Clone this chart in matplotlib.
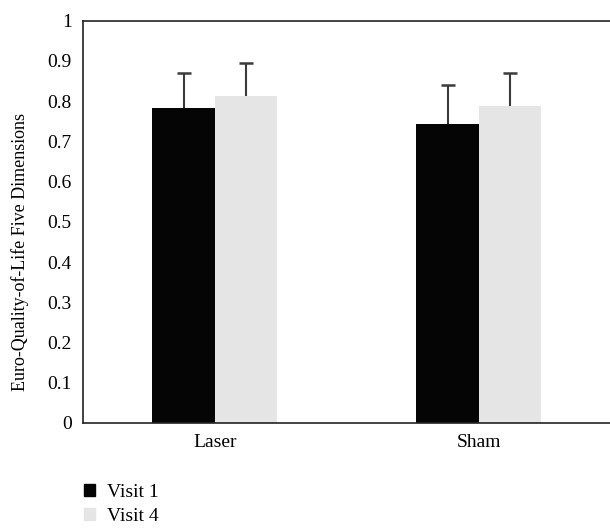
import numpy as np
import matplotlib
matplotlib.use("Agg")
import matplotlib.pyplot as plt
from matplotlib.patches import Patch

plt.rcParams['font.family'] = ['Liberation Serif', 'DejaVu Serif']

# Data
groups = ["Laser", "Sham"]
visit1 = [0.782, 0.743]
visit4 = [0.812, 0.787]
visit1_err = [0.087, 0.097]
visit4_err = [0.082, 0.082]
yticks = [0, 0.1, 0.2, 0.3, 0.4, 0.5, 0.6, 0.7, 0.8, 0.9, 1]
ylabel = "Euro-Quality-of-Life Five Dimensions"

fig = plt.figure(figsize=(6.1, 5.29), dpi=100)
ax = fig.add_axes([0.136, 0.2004, 0.874, 0.7606])

x = np.arange(len(groups))
w = 0.237
colors = ['#050505', '#e5e5e5']
for i, (vals, errs) in enumerate([(visit1, visit1_err), (visit4, visit4_err)]):
    pos = x + (i - 0.5) * w
    vals = np.array(vals)
    errs = np.array(errs)
    ax.bar(pos, vals, w, color=colors[i], zorder=2)
    # upward-only error bars, cap only at the top
    ax.errorbar(pos, vals, yerr=[np.zeros_like(errs), errs], fmt='none',
                ecolor='#3a3a3a', elinewidth=1.5, capsize=0, zorder=1)
    ax.plot(pos, vals + errs, ls='none', marker='_', ms=10, mew=1.8,
            color='#3a3a3a', zorder=1)

ax.set_xlim(-0.5, 1.52)
ax.set_ylim(0, 1)
ax.set_yticks(yticks)
ax.set_yticklabels([f"{t:g}" for t in yticks])
ax.set_xticks(x)
ax.set_xticklabels(groups)
ax.tick_params(length=0, labelsize=14, pad=8)
ax.tick_params(axis='x', pad=8)
ax.set_ylabel(ylabel, fontsize=13)
ax.yaxis.set_label_coords(-0.101, 0.426)

for s in ['left', 'bottom', 'top']:
    ax.spines[s].set_linewidth(1.2)
    ax.spines[s].set_color('#222222')
ax.spines['right'].set_visible(False)

handles = [Patch(color=colors[0], label='Visit 1'),
           Patch(color=colors[1], label='Visit 4')]
fig.legend(handles=handles, loc='upper left', bbox_to_anchor=(0.137, 0.086),
           frameon=False, fontsize=14, handlelength=0.57, handleheight=0.57,
           handletextpad=0.65, labelspacing=0.38, borderpad=0, borderaxespad=0)

fig.savefig("out.png", dpi=100)
